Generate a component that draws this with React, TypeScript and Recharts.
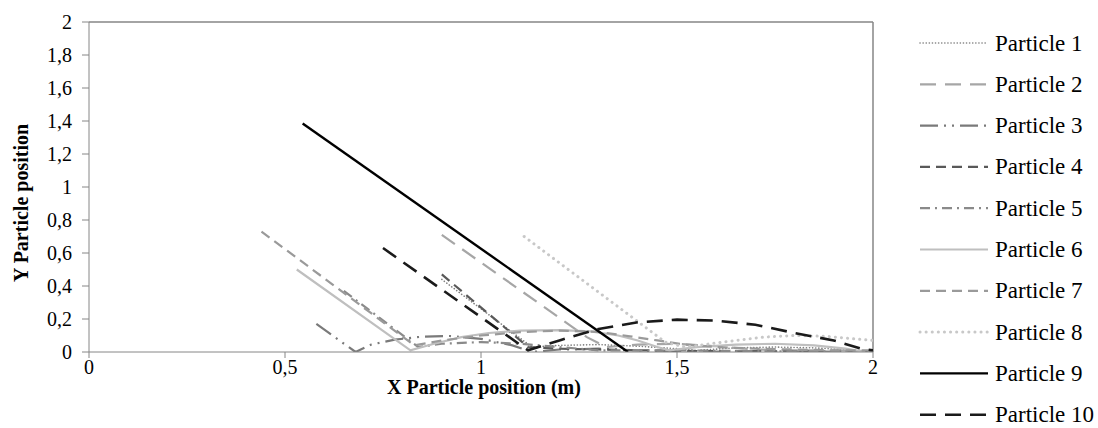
import { LineChart, Line, XAxis, YAxis, ReferenceLine, Label } from "recharts";

// axis ticks
const xTicks = [0, 0.5, 1, 1.5, 2];
const yTicks = [0, 0.2, 0.4, 0.6, 0.8, 1, 1.2, 1.4, 1.6, 1.8, 2];

// trajectories as [x, y] pairs (m)
const particle1: [number, number][] = [
  [0.9, 0.44], [1.13, 0.03], [1.2, 0.04], [1.3, 0.045], [1.4, 0.035], [1.5, 0.02], [1.55, 0.01],
  [1.65, 0.025], [1.75, 0.03], [1.85, 0.025], [1.95, 0.01], [2.0, 0.005],
];
const particle2: [number, number][] = [
  [0.9, 0.71], [1.27, 0.09], [1.32, 0.03], [1.4, 0.045], [1.5, 0.05], [1.6, 0.035], [1.7, 0.015],
  [1.8, 0.01], [1.9, 0.01], [2.0, 0.005],
];
const particle3: [number, number][] = [
  [0.58, 0.17], [0.68, 0.0], [0.72, 0.045], [0.78, 0.075], [0.85, 0.093], [0.92, 0.097], [1.0, 0.08],
  [1.08, 0.04], [1.13, 0.0], [1.2, 0.015], [1.3, 0.02], [1.4, 0.01], [1.5, 0.0], [1.7, 0.005], [2.0, 0.0],
];
const particle4: [number, number][] = [
  [0.9, 0.47], [1.12, 0.03], [1.2, 0.02], [1.3, 0.015], [1.4, 0.01], [1.6, 0.005], [2.0, 0.0],
];
const particle5: [number, number][] = [
  [0.65, 0.37], [0.84, 0.03], [0.9, 0.05], [1.0, 0.06], [1.1, 0.05], [1.2, 0.03], [1.3, 0.01],
  [1.5, 0.01], [1.7, 0.005], [2.0, 0.0],
];
const particle6: [number, number][] = [
  [0.53, 0.5], [0.82, 0.01], [0.88, 0.05], [0.95, 0.09], [1.02, 0.115], [1.1, 0.13], [1.2, 0.133],
  [1.28, 0.125], [1.35, 0.1], [1.4, 0.07], [1.45, 0.03], [1.48, 0.01], [1.55, 0.03], [1.65, 0.045],
  [1.75, 0.05], [1.85, 0.04], [1.93, 0.02], [1.98, 0.0],
];
const particle7: [number, number][] = [
  [0.44, 0.73], [0.83, 0.04], [0.9, 0.07], [1.0, 0.1], [1.1, 0.12], [1.2, 0.13], [1.3, 0.122],
  [1.38, 0.095], [1.45, 0.07], [1.52, 0.045], [1.6, 0.03], [1.7, 0.02], [1.8, 0.015], [1.9, 0.01], [2.0, 0.01],
];
const particle8: [number, number][] = [
  [1.11, 0.7], [1.47, 0.06], [1.52, 0.03], [1.57, 0.045], [1.65, 0.07], [1.72, 0.09], [1.8, 0.1],
  [1.88, 0.095], [1.95, 0.08], [2.0, 0.07],
];
const particle9: [number, number][] = [
  [0.545, 1.385], [1.375, 0.0],
];
const particle10: [number, number][] = [
  [0.75, 0.63], [1.12, 0.01], [1.2, 0.07], [1.3, 0.14], [1.4, 0.18], [1.5, 0.196], [1.6, 0.19],
  [1.7, 0.165], [1.8, 0.115], [1.9, 0.07], [1.97, 0.02], [2.0, 0.01],
];

const SERIES = [
  { name: "Particle 1", points: particle1, color: "#7f7f7f", width: 1.6, dash: "0.1 3", cap: "round" },
  { name: "Particle 2", points: particle2, color: "#a6a6a6", width: 2.2, dash: "16 9", cap: "butt" },
  { name: "Particle 3", points: particle3, color: "#7a7a7a", width: 2.2, dash: "18 6 2 6 2 6", cap: "butt" },
  { name: "Particle 4", points: particle4, color: "#595959", width: 2.2, dash: "10 6", cap: "butt" },
  { name: "Particle 5", points: particle5, color: "#8a8a8a", width: 2.2, dash: "10 5 2 5", cap: "butt" },
  { name: "Particle 6", points: particle6, color: "#bfbfbf", width: 2.2, dash: undefined, cap: "butt" },
  { name: "Particle 7", points: particle7, color: "#9a9a9a", width: 2.2, dash: "10 6", cap: "butt" },
  { name: "Particle 8", points: particle8, color: "#c8c8c8", width: 3, dash: "0.1 6", cap: "round" },
  { name: "Particle 9", points: particle9, color: "#000000", width: 2.4, dash: undefined, cap: "butt" },
  { name: "Particle 10", points: particle10, color: "#1a1a1a", width: 2.6, dash: "16 9", cap: "butt" },
];

const toRows = (pts: [number, number][]) => pts.map(([x, y]) => ({ x, y }));
const comma = (v: number) => String(v).replace(".", ",");

const FONT = '"Liberation Serif", "Times New Roman", serif';
const AXIS = "#868686";

function LegendPanel() {
  return (
    <svg width={198} height={428} style={{ position: "absolute", left: 900, top: 0 }}>
      {SERIES.map((s, i) => {
        const y = 43 + i * 41.3;
        return (
          <g key={s.name}>
            <line
              x1={20}
              x2={88}
              y1={y}
              y2={y}
              stroke={s.color}
              strokeWidth={s.width}
              strokeDasharray={s.dash}
              strokeLinecap={s.cap as "round" | "butt"}
            />
            <text x={95} y={y} dominantBaseline="central" style={{ fontFamily: FONT, fontSize: 23 }} fill="#000">
              {s.name}
            </text>
          </g>
        );
      })}
    </svg>
  );
}

export default function App() {
  return (
    <div
      style={{
        position: "absolute",
        left: 0,
        top: 0,
        width: 1098,
        height: 428,
        background: "#fff",
        fontFamily: FONT,
      }}
    >
      <LineChart width={1098} height={428} margin={{ top: 22, right: 225, bottom: 0, left: 0 }} style={{ fontFamily: FONT }}>
        <XAxis
          type="number"
          dataKey="x"
          domain={[0, 2]}
          ticks={xTicks}
          allowDataOverflow
          tickFormatter={comma}
          height={76}
          stroke={AXIS}
          tickSize={6}
          tickMargin={2}
          tick={{ fill: "#000", style: { fontFamily: FONT, fontSize: 20 } }}
        >
          <Label
            content={() => (
              <text
                x={484}
                y={387}
                textAnchor="middle"
                dominantBaseline="central"
                style={{ fontFamily: FONT, fontSize: 20, fontWeight: "bold" }}
                fill="#000"
              >
                X Particle position (m)
              </text>
            )}
          />
        </XAxis>
        <YAxis
          type="number"
          domain={[0, 2]}
          ticks={yTicks}
          allowDataOverflow
          tickFormatter={comma}
          width={89}
          stroke={AXIS}
          tickSize={7}
          tickMargin={10}
          tick={{ fill: "#000", style: { fontFamily: FONT, fontSize: 20 } }}
        >
          <Label
            content={() => (
              <text
                x={21}
                y={203}
                transform="rotate(-90 21 203)"
                textAnchor="middle"
                dominantBaseline="central"
                style={{ fontFamily: FONT, fontSize: 20, fontWeight: "bold" }}
                fill="#000"
              >
                Y Particle position
              </text>
            )}
          />
        </YAxis>
        <ReferenceLine y={2} stroke={AXIS} strokeWidth={1.5} />
        <ReferenceLine x={2} stroke={AXIS} strokeWidth={1.5} />
        {SERIES.map((s) => (
          <Line
            key={s.name}
            name={s.name}
            data={toRows(s.points)}
            dataKey="y"
            type="linear"
            stroke={s.color}
            strokeWidth={s.width}
            strokeDasharray={s.dash}
            strokeLinecap={s.cap as "round" | "butt"}
            dot={false}
            activeDot={false}
            isAnimationActive={false}
          />
        ))}
      </LineChart>
      <LegendPanel />
    </div>
  );
}
